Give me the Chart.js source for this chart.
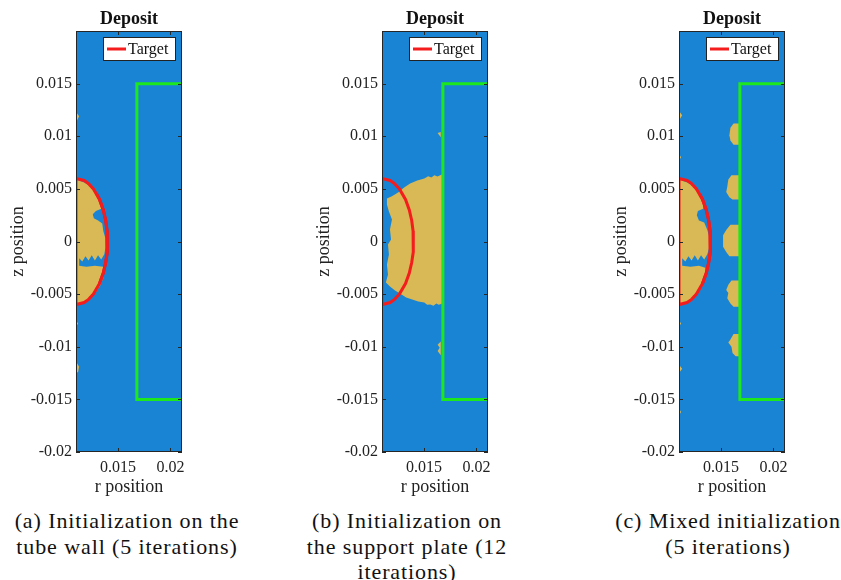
<!DOCTYPE html>
<html>
<head>
<meta charset="utf-8">
<script src="https://cdn.jsdelivr.net/npm/chart.js@4.4.1/dist/chart.umd.min.js"></script>
<style>
  body { margin: 0; background: #fff; width: 841px; height: 580px; position: relative; overflow: hidden; font-family: "Liberation Serif", serif; }
  .panel { position: absolute; top: 0; width: 200px; height: 500px; }
  .cap { position: absolute; top: 508px; width: 280px; text-align: center; font-size: 22px; line-height: 25.5px; letter-spacing: 0.9px; color: #111; white-space: nowrap; }
</style>
</head>
<body>
<div class="panel" style="left:0px"><canvas id="panelA"></canvas></div>
<div class="panel" style="left:306px"><canvas id="panelB"></canvas></div>
<div class="panel" style="left:603px"><canvas id="panelC"></canvas></div>
<div class="cap" style="left:-13px">(a) Initialization on the<br>tube wall (5 iterations)</div>
<div class="cap" style="left:267px">(b) Initialization on<br>the support plate (12<br>iterations)</div>
<div class="cap" style="left:588px">(c) Mixed initialization<br>(5 iterations)</div>
<script>
// axes
var rTicks = [0.015, 0.02];
var zTicks = [-0.02, -0.015, -0.01, -0.005, 0, 0.005, 0.01, 0.015];
var rLimits = [0.011, 0.0211];
var zLimits = [-0.02, 0.02];

// target shape (half ellipse on the tube wall)
var targetR = [0.011, 0.01177, 0.0122, 0.01266, 0.01324, 0.0136, 0.01383, 0.01396, 0.014, 0.01396, 0.01383, 0.0136, 0.01324, 0.01266, 0.0122, 0.01177, 0.011, 0.011];
var targetZ = [0.006, 0.0058, 0.0055, 0.005, 0.004, 0.003, 0.002, 0.001, 0, -0.001, -0.002, -0.003, -0.004, -0.005, -0.0055, -0.0058, -0.006, 0.006];

// deposit contour sitting on the target
var boundaryR = [0.01298, 0.01324, 0.0136, 0.01383, 0.01396, 0.014, 0.01396, 0.01383, 0.0136, 0.01324];
var boundaryZ = [0.0045, 0.004, 0.003, 0.002, 0.001, 0, -0.001, -0.002, -0.003, -0.004];

// support plate
var plateR = [0.0211, 0.0168, 0.0168, 0.0211];
var plateZ = [0.015, 0.015, -0.015, -0.015];

// deposit regions, [r, z] per vertex
var depositA = [
  [[0.011, 0.0059], [0.0118, 0.0056], [0.0124, 0.0052], [0.0129, 0.0046], [0.0133, 0.0038], [0.0134, 0.0031],
   [0.0129, 0.0029], [0.0126, 0.0026], [0.0127, 0.0022], [0.0131, 0.0020], [0.0135, 0.0017], [0.0136, 0.0010],
   [0.0138, 0.0003], [0.0138, -0.0006], [0.0137, -0.0012], [0.0134, -0.0017], [0.0131, -0.0013], [0.0128, -0.0018],
   [0.0125, -0.0013], [0.0122, -0.0018], [0.0119, -0.0014], [0.0116, -0.0019], [0.0113, -0.0016], [0.0113, -0.0023],
   [0.0120, -0.0024], [0.0128, -0.0023], [0.0136, -0.0024], [0.0137, -0.0029], [0.0136, -0.0035], [0.0133, -0.0042],
   [0.0129, -0.0048], [0.0123, -0.0054], [0.0116, -0.0058], [0.011, -0.006]],
  [[0.011, 0.0123], [0.0113, 0.0119], [0.011, 0.0113]],
  [[0.011, -0.0075], [0.0112, -0.0078], [0.011, -0.0081]],
  [[0.011, -0.0114], [0.0113, -0.0119], [0.0112, -0.0124], [0.011, -0.0125]]
];

var depositB = [
  [[0.01147, 0.00409], [0.01195, 0.0043], [0.01253, 0.00466], [0.01311, 0.00514], [0.01368, 0.00552], [0.01436, 0.0058],
   [0.01470, 0.0059], [0.01503, 0.00599], [0.01540, 0.0062], [0.01570, 0.00609], [0.01600, 0.0063], [0.01628, 0.00618],
   [0.01676, 0.0064], [0.01676, -0.0059], [0.01640, -0.0060], [0.01618, -0.0059], [0.01590, -0.0061], [0.01561, -0.00599],
   [0.01530, -0.0060], [0.01503, -0.0058], [0.01445, -0.00571], [0.01388, -0.00552], [0.01330, -0.00533], [0.01272, -0.00495],
   [0.01224, -0.00466], [0.01176, -0.00428], [0.01137, -0.0039], [0.01157, -0.00314], [0.01147, -0.00219], [0.01166, -0.00124],
   [0.01157, -0.00029], [0.01186, 0.00019], [0.01176, 0.00114], [0.01195, 0.00209], [0.01166, 0.00285], [0.01147, 0.00352]],
  [[0.0163, 0.0103], [0.0166, 0.0104], [0.0166, 0.0099]],
  [[0.0166, -0.0095], [0.0163, -0.0098], [0.0165, -0.0101], [0.0163, -0.0104], [0.0166, -0.0108]]
];

var depositC = [
  [[0.011, 0.0059], [0.0118, 0.0056], [0.0124, 0.0052], [0.0129, 0.0046], [0.0133, 0.0039], [0.0133, 0.0031],
   [0.0128, 0.0029], [0.0127, 0.0025], [0.0129, 0.0020], [0.0134, 0.0018], [0.0137, 0.0011], [0.0139, 0.0004],
   [0.0139, -0.0005], [0.0137, -0.0012], [0.0134, -0.0017], [0.0131, -0.0013], [0.0128, -0.0018], [0.0125, -0.0013],
   [0.0122, -0.0018], [0.0119, -0.0014], [0.0116, -0.0019], [0.0113, -0.0016], [0.0113, -0.0023], [0.0121, -0.0024],
   [0.0129, -0.0023], [0.0135, -0.0025], [0.0136, -0.0030], [0.0134, -0.0037], [0.0132, -0.0043], [0.0128, -0.0049],
   [0.0122, -0.0054], [0.0116, -0.0058], [0.011, -0.006]],
  [[0.0168, 0.0112], [0.0162, 0.0112], [0.0159, 0.0108], [0.0158, 0.0101], [0.0159, 0.0096], [0.0162, 0.0092], [0.0168, 0.0092]],
  [[0.0168, 0.0063], [0.0160, 0.0063], [0.0157, 0.0059], [0.0156, 0.0052], [0.0155, 0.0047], [0.0158, 0.0042], [0.0161, 0.0040], [0.0168, 0.0040]],
  [[0.0168, 0.0016], [0.0159, 0.0016], [0.0155, 0.0011], [0.0152, 0.0006], [0.0152, -0.0005], [0.0155, -0.0010], [0.0158, -0.0014], [0.0168, -0.0014]],
  [[0.0168, -0.0037], [0.0160, -0.0037], [0.0157, -0.0041], [0.0155, -0.0046], [0.0157, -0.0049], [0.0156, -0.0054], [0.0159, -0.0059], [0.0162, -0.0062], [0.0168, -0.0062]],
  [[0.0168, -0.0088], [0.0162, -0.0088], [0.0159, -0.0093], [0.0157, -0.0096], [0.0160, -0.0100], [0.0161, -0.0106], [0.0164, -0.0109], [0.0168, -0.0109]],
  [[0.011, 0.0124], [0.0113, 0.0120], [0.011, 0.0115]],
  [[0.011, 0.0083], [0.0112, 0.0080], [0.011, 0.0077]],
  [[0.011, -0.0075], [0.0112, -0.0078], [0.011, -0.0081]],
  [[0.011, -0.0117], [0.0113, -0.0121], [0.011, -0.0125]],
  [[0.011, -0.0159], [0.0112, -0.0162], [0.011, -0.0165]]
];

var areaBlue = '#1a84d4';
var depositYellow = '#d8b955';
var targetRed = '#f41c1c';
var boundaryRed = '#c81e3c';
var plateGreen = '#1de81d';
var serif = "'Liberation Serif', serif";

function toPoints(rs, zs) {
  return rs.map(function(r, i) { return { x: r, y: zs[i] }; });
}

var framePlugin = {
  id: 'frame',
  beforeDraw: function(chart) {
    var a = chart.chartArea, ctx = chart.ctx;
    ctx.save();
    ctx.fillStyle = areaBlue;
    ctx.fillRect(a.left, a.top, a.right - a.left, a.bottom - a.top);
    ctx.restore();
  },
  afterDraw: function(chart) {
    var a = chart.chartArea, ctx = chart.ctx;
    var xs = chart.scales.x, ys = chart.scales.y;
    ctx.save();
    ctx.strokeStyle = '#262626';
    ctx.lineWidth = 1;
    ctx.beginPath();
    rTicks.forEach(function(v) {
      var px = Math.round(xs.getPixelForValue(v)) + 0.5;
      ctx.moveTo(px, a.bottom); ctx.lineTo(px, a.bottom - 4);
      ctx.moveTo(px, a.top); ctx.lineTo(px, a.top + 4);
    });
    zTicks.forEach(function(v) {
      var py = Math.round(ys.getPixelForValue(v)) + 0.5;
      ctx.moveTo(a.left, py); ctx.lineTo(a.left + 4, py);
      ctx.moveTo(a.right, py); ctx.lineTo(a.right - 4, py);
    });
    ctx.stroke();
    ctx.strokeRect(a.left + 0.5, a.top + 0.5, a.right - a.left - 1, a.bottom - a.top - 1);

    // legend box in the top right corner
    var ds = chart.data.datasets[1];
    var w = 72, h = 23;
    var lx = a.right - 7 - w, ly = a.top + 6;
    ctx.fillStyle = '#fff';
    ctx.fillRect(lx, ly, w, h);
    ctx.strokeStyle = '#222';
    ctx.strokeRect(lx + 0.5, ly + 0.5, w, h);
    ctx.strokeStyle = ds.borderColor;
    ctx.lineWidth = 3;
    ctx.beginPath();
    ctx.moveTo(lx + 4, ly + 12); ctx.lineTo(lx + 23, ly + 12);
    ctx.stroke();
    ctx.fillStyle = '#111';
    ctx.font = '16px ' + serif;
    ctx.textBaseline = 'middle';
    ctx.fillText(ds.label, lx + 25, ly + 12.5);
    ctx.restore();
  }
};

function makePanel(id, deposits, showBoundary) {
  var datasets = [
    { label: 'Plate', data: toPoints(plateR, plateZ), borderColor: plateGreen, borderWidth: 3, fill: false },
    { label: 'Target', data: toPoints(targetR, targetZ), borderColor: targetRed, borderWidth: 3, fill: false }
  ];
  if (showBoundary) {
    datasets.push({ label: 'Boundary', data: toPoints(boundaryR, boundaryZ), borderColor: boundaryRed, borderWidth: 3, fill: false });
  }
  deposits.forEach(function(poly) {
    datasets.push({
      label: 'Deposit',
      data: poly.map(function(p) { return { x: p[0], y: p[1] }; }),
      borderWidth: 0,
      borderColor: depositYellow,
      backgroundColor: depositYellow,
      fill: 'shape'
    });
  });

  new Chart(document.getElementById(id), {
    type: 'scatter',
    data: { datasets: datasets },
    options: {
      responsive: true,
      maintainAspectRatio: false,
      animation: false,
      showLine: true,
      elements: { point: { radius: 0, hoverRadius: 0 }, line: { tension: 0 } },
      layout: { padding: { left: 0, top: 0, right: 18, bottom: 0 } },
      plugins: {
        legend: { display: false },
        tooltip: { enabled: false },
        title: {
          display: true,
          fullSize: false,
          text: 'Deposit',
          color: '#111',
          font: { family: serif, size: 18, weight: 'bold', lineHeight: 1 },
          padding: { top: 10, bottom: 3 }
        }
      },
      scales: {
        x: {
          type: 'linear',
          min: rLimits[0],
          max: rLimits[1],
          afterBuildTicks: function(s) { s.ticks = rTicks.map(function(v) { return { value: v }; }); },
          afterFit: function(s) { s.height = 48; },
          grid: { display: false, drawTicks: false },
          border: { display: false },
          ticks: { padding: 6, color: '#222', font: { family: serif, size: 16 }, maxRotation: 0, callback: function(v) { return String(v); } },
          title: { display: true, text: 'r position', color: '#222', font: { family: serif, size: 18 }, padding: { top: 0, bottom: 2 } }
        },
        y: {
          type: 'linear',
          min: zLimits[0],
          max: zLimits[1],
          afterBuildTicks: function(s) { s.ticks = zTicks.map(function(v) { return { value: v }; }); },
          afterFit: function(s) { s.width = 76; },
          grid: { display: false, drawTicks: false },
          border: { display: false },
          ticks: { padding: 4, color: '#222', font: { family: serif, size: 16 }, callback: function(v) { return String(v); } },
          title: { display: true, text: 'z position', color: '#222', font: { family: serif, size: 18 }, padding: { top: 7, bottom: 0 } }
        }
      }
    },
    plugins: [framePlugin]
  });
}

makePanel('panelA', depositA, true);
makePanel('panelB', depositB, false);
makePanel('panelC', depositC, true);
</script>
</body>
</html>
